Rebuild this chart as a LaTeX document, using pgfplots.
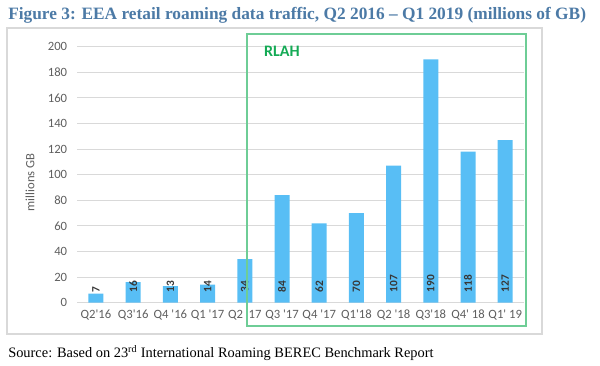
\documentclass[border=0pt]{standalone}
\usepackage{pgfplots}
\pgfplotsset{compat=1.18}
\usepackage{fontspec}
\setmainfont{Liberation Serif}
\newfontfamily\carlito{Carlito}
\definecolor{titleblue}{RGB}{76,122,166}
\definecolor{barblue}{RGB}{88,190,245}
\definecolor{gridgray}{RGB}{217,217,217}
\definecolor{tickgray}{RGB}{95,95,95}
\definecolor{boxgreen}{RGB}{110,205,150}
\definecolor{rlahgreen}{RGB}{20,170,85}
\definecolor{labeldark}{RGB}{55,55,55}
\begin{document}
\begin{tikzpicture}
\useasboundingbox (0,0) rectangle (450pt,274.5pt);
\draw[gridgray, line width=0.8pt] (5.25pt,24pt) rectangle (406.5pt,253.5pt);
\begin{axis}[
  at={(58.05pt,47.5pt)}, anchor=south west,
  scale only axis, width=334.8pt, height=192pt,
  xmin=-0.5, xmax=11.5, ymin=0, ymax=200,
  ytick={0,20,...,200},
  xtick={0,...,11},
  xticklabels={Q2'16,Q3'16,Q4 '16,Q1 '17,Q2 '17,Q3 '17,Q4 '17,Q1'18,Q2 '18,Q3'18,Q4' 18,Q1' 19},
  axis line style={draw=none},
  major tick length=0pt,
  ymajorgrids, grid style={gridgray, line width=0.8pt},
  tick label style={font=\carlito\fontsize{9.5}{10}\selectfont, text=tickgray},
  /pgf/number format/assume math mode=true,
  yticklabel style={inner xsep=0pt, xshift=-7.5pt},
  xticklabel style={inner ysep=0pt, yshift=-5pt},
  ylabel={millions GB},
  ylabel style={font=\carlito\fontsize{9.5}{10}\selectfont, text=tickgray, at={(axis description cs:-0.106,0.47)}, anchor=center},
  clip=false,
]
\addplot[ybar, bar width=11.25pt, fill=barblue, draw=none] coordinates {
(0,7) (1,16) (2,13) (3,14) (4,34) (5,84) (6,62) (7,70) (8,107) (9,190) (10,118) (11,127)};
\addplot[only marks, mark=none, point meta=explicit symbolic,
  nodes near coords,
  every node near coord/.append style={rotate=90, anchor=west, inner xsep=7.5pt, inner ysep=0pt,
    font=\carlito\bfseries\fontsize{8.5}{9}\selectfont, text=labeldark}]
  table[meta=v] {
x y v
0 0 7
1 0 16
2 0 13
3 0 14
4 0 34
5 0 84
6 0 62
7 0 70
8 0 107
9 0 190
10 0 118
11 0 127
};
\end{axis}
\draw[boxgreen, line width=1.2pt] (185.25pt,30pt) rectangle (394.5pt,249pt);
\node[anchor=center, text=rlahgreen, font=\carlito\bfseries\fontsize{12}{13}\selectfont, inner sep=0pt] at (211.5pt,236.25pt) {RLAH};
\node[anchor=west, inner sep=0pt, text=titleblue, font=\bfseries\fontsize{13}{15}\selectfont] at (6pt,263.25pt) {Figure 3: EEA retail roaming data traffic, Q2 2016 -- Q1 2019 (millions of GB)};
\node[anchor=west, inner sep=0pt, font=\fontsize{10.8}{12}\selectfont] at (6pt,9.75pt) {Source: Based on 23\textsuperscript{rd} International Roaming BEREC Benchmark Report};
\end{tikzpicture}
\end{document}
